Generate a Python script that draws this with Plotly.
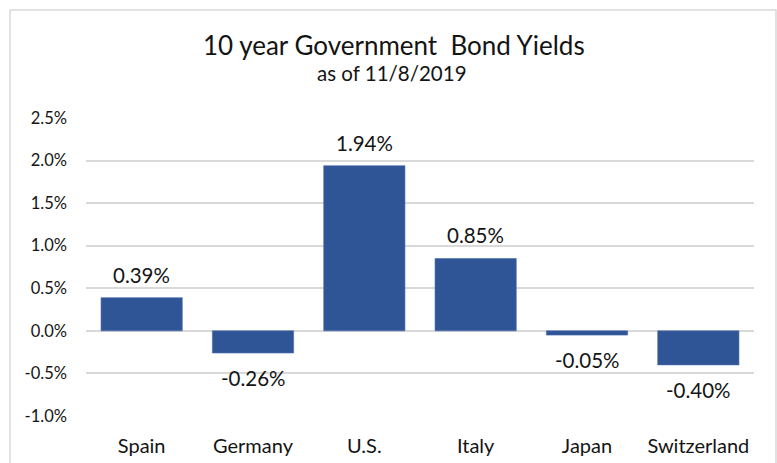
import plotly.graph_objects as go

countries = ["Spain", "Germany", "U.S.", "Italy", "Japan", "Switzerland"]
yields = [0.39, -0.26, 1.94, 0.85, -0.05, -0.40]
labels = ["0.39%", "-0.26%", "1.94%", "0.85%", "-0.05%", "-0.40%"]
tick_vals = [-1.0, -0.5, 0.0, 0.5, 1.0, 1.5, 2.0, 2.5]
tick_text = ["-1.0%", "-0.5%", "0.0%", "0.5%", "1.0%", "1.5%", "2.0%", "2.5%"]
title = "10 year Government  Bond Yields"
subtitle = "as of 11/8/2019"

W, H = 777, 463
L, R, T, B = 86, 23, 118, 47
pw, ph = W - L - R, H - T - B

def px(x):
    return (x - L) / pw

def py(y):
    return (H - B - y) / ph

FONT = "Lato, Carlito, Calibri, sans-serif"
TXT = "#141414"

fig = go.Figure()
fig.add_trace(go.Bar(
    x=countries, y=yields,
    marker=dict(color="#2F5597", line=dict(color="#4A6DAE", width=0.6)),
    hoverinfo="x+y",
))

annotations = []
for c, v, t in zip(countries, yields, labels):
    annotations.append(dict(
        x=c, y=v, xref="x", yref="y", text=t, showarrow=False,
        yanchor="middle", yshift=23 if v >= 0 else -25,
        font=dict(family=FONT, size=20.5, color=TXT),
    ))
annotations.append(dict(
    x=px(394), y=py(45), xref="paper", yref="paper", text=title,
    showarrow=False, xanchor="center", yanchor="middle",
    font=dict(family=FONT, size=26, color=TXT),
))
annotations.append(dict(
    x=px(392), y=py(73), xref="paper", yref="paper", text=subtitle,
    showarrow=False, xanchor="center", yanchor="middle",
    font=dict(family=FONT, size=20.5, color=TXT),
))

fig.update_layout(
    width=W, height=H,
    margin=dict(l=L, r=R, t=T, b=B, pad=0, autoexpand=False),
    paper_bgcolor="white", plot_bgcolor="white",
    bargap=0.27,
    showlegend=False,
    annotations=annotations,
    shapes=[dict(
        type="rect", xref="paper", yref="paper",
        x0=px(10), x1=px(776), y0=py(475), y1=py(10),
        line=dict(color="#D9D9D9", width=1.5), layer="below",
    )],
)
fig.update_xaxes(
    showgrid=False, showline=False, zeroline=False, automargin=False,
    tickfont=dict(family=FONT, size=20, color=TXT),
    ticklabelstandoff=16,
)
fig.update_yaxes(
    range=[-1.0, 2.5], tickvals=tick_vals, ticktext=tick_text,
    showgrid=True, gridcolor="#D9D9D9", gridwidth=1.5,
    zeroline=True, zerolinecolor="#D9D9D9", zerolinewidth=1.5,
    showline=False, automargin=False,
    tickfont=dict(family=FONT, size=16.5, color=TXT),
    ticklabelstandoff=18,
)

fig.write_html("out.html")
